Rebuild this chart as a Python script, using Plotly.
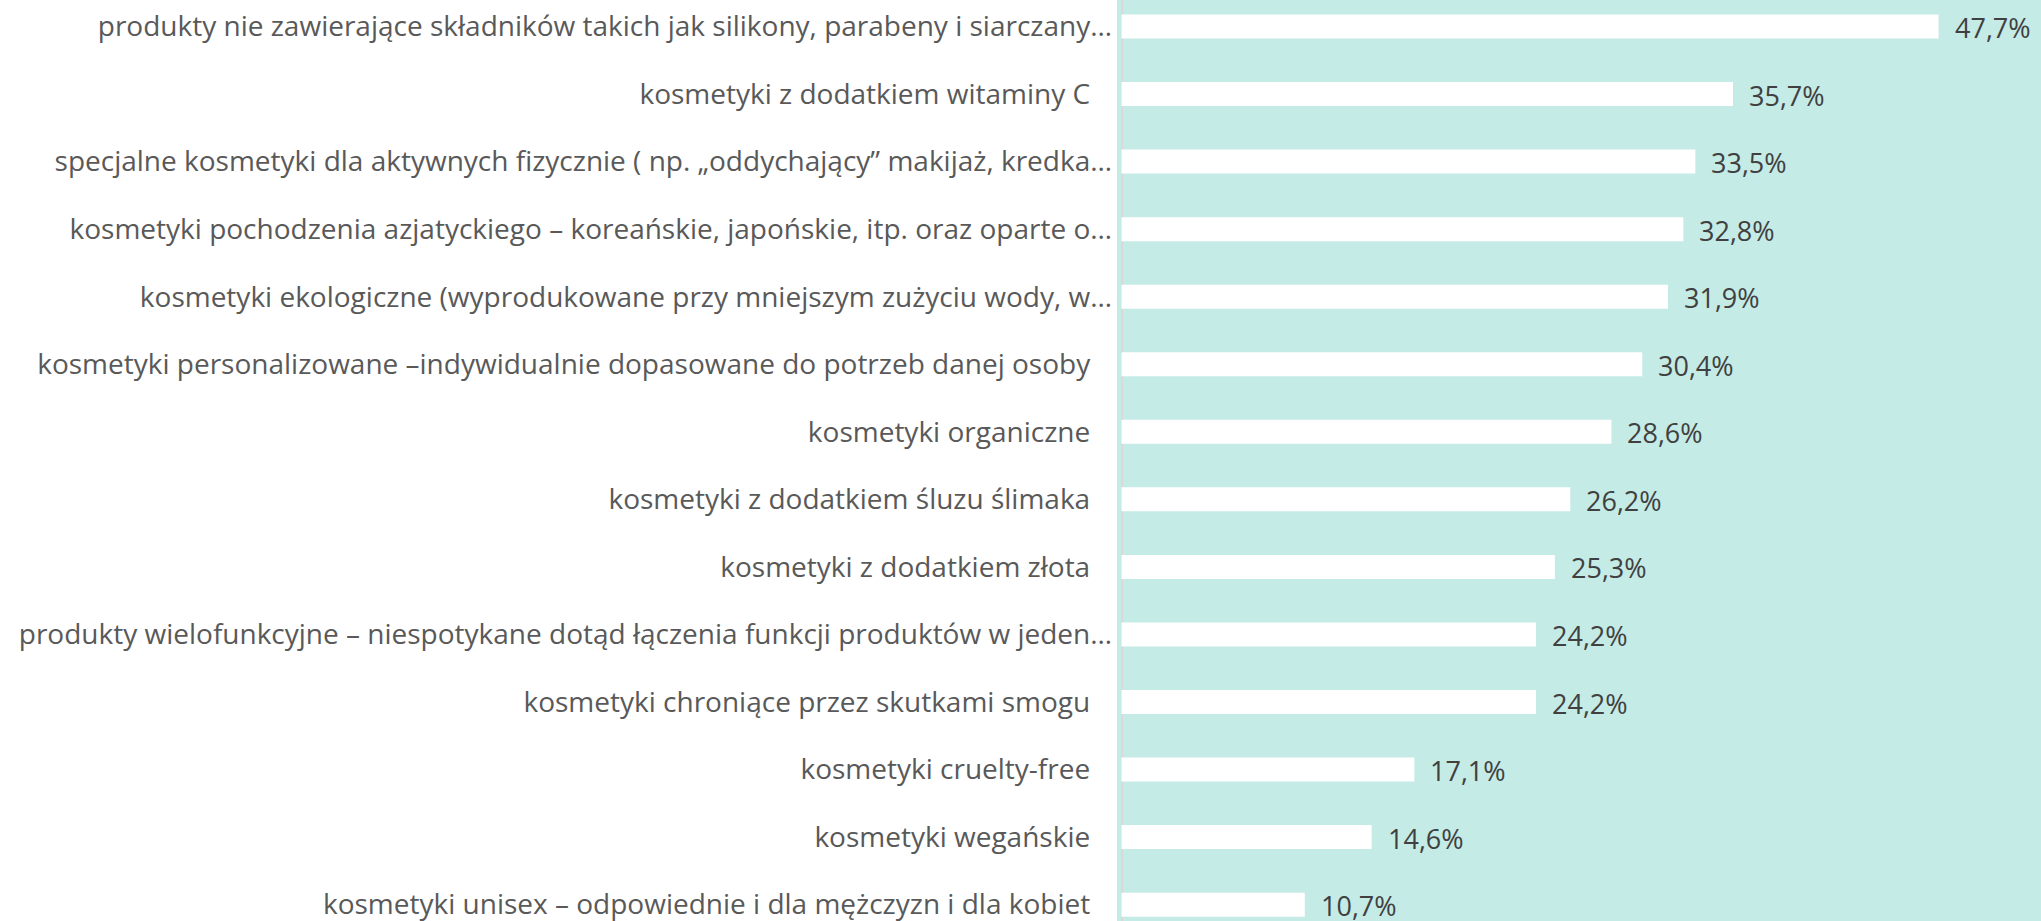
import plotly.graph_objects as go

categories = [
    "produkty nie zawierające składników takich jak silikony, parabeny i siarczany…",
    "kosmetyki z dodatkiem witaminy C",
    "specjalne kosmetyki dla aktywnych fizycznie ( np. „oddychający” makijaż, kredka…",
    "kosmetyki pochodzenia azjatyckiego – koreańskie, japońskie, itp. oraz oparte o…",
    "kosmetyki ekologiczne (wyprodukowane przy mniejszym zużyciu wody, w…",
    "kosmetyki personalizowane –indywidualnie dopasowane do potrzeb danej osoby",
    "kosmetyki organiczne",
    "kosmetyki z dodatkiem śluzu ślimaka",
    "kosmetyki z dodatkiem złota",
    "produkty wielofunkcyjne – niespotykane dotąd łączenia funkcji produktów w jeden…",
    "kosmetyki chroniące przez skutkami smogu",
    "kosmetyki cruelty-free",
    "kosmetyki wegańskie",
    "kosmetyki unisex – odpowiednie i dla mężczyzn i dla kobiet",
]
values = [47.7, 35.7, 33.5, 32.8, 31.9, 30.4, 28.6, 26.2, 25.3, 24.2, 24.2, 17.1, 14.6, 10.7]
value_labels = ["47,7%", "35,7%", "33,5%", "32,8%", "31,9%", "30,4%", "28,6%",
                "26,2%", "25,3%", "24,2%", "24,2%", "17,1%", "14,6%", "10,7%"]

FONT = "Open Sans"
LABEL_COLOR = "#595959"

# display text: full labels get trailing spacing like the original
tick_text = [c if c.endswith("…") else c + "\u00a0\u00a0\u00a0" for c in categories]
ids = list(range(len(categories)))

fig = go.Figure()
fig.add_trace(go.Bar(
    x=values, y=ids, orientation="h",
    marker=dict(color="#ffffff", line=dict(width=0)),
    width=0.355, hoverinfo="skip",
))

for i, (v, t) in enumerate(zip(values, value_labels)):
    fig.add_annotation(x=v, y=i, text=t, showarrow=False, xanchor="left",
                       xshift=14, yshift=-1,
                       font=dict(family=FONT, size=27, color="#404040"))

fig.update_layout(
    width=2041, height=921,
    margin=dict(l=1117, r=0, t=0, b=0),
    paper_bgcolor="#ffffff",
    plot_bgcolor="#c5ebe6",
    showlegend=False,
    xaxis=dict(range=[-0.263, 53.68], showgrid=False, showticklabels=False,
               zeroline=True, zerolinecolor="#d9d9d9", zerolinewidth=2, fixedrange=True),
    yaxis=dict(range=[13.242, -0.392], tickmode="array", tickvals=ids, ticktext=tick_text,
               showgrid=False, zeroline=False, ticks="", ticklabelstandoff=4,
               ticklabeloverflow="allow", fixedrange=True,
               tickfont=dict(family=FONT, size=28, color=LABEL_COLOR)),
)

fig.write_html("out.html", config={"displayModeBar": False},
               post_script="document.body.style.margin='0';document.body.style.overflow='hidden';")
